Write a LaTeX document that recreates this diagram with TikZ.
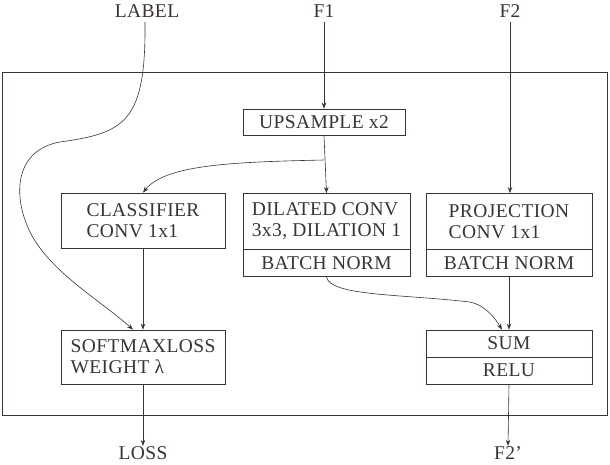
\documentclass[tikz,border=0pt]{standalone}
\usepackage{fontspec}
\setmainfont{Liberation Serif}[LetterSpace=2]
\usetikzlibrary{arrows.meta}
\definecolor{ink}{HTML}{3A3333}
\begin{document}
\begin{tikzpicture}[x=1pt,y=-1pt,
  every node/.style={font=\fontsize{19.5}{21}\selectfont, text=ink},
  blk/.style={draw=ink, line width=0.8pt, inner sep=0pt, align=left},
  lbl/.style={inner sep=0pt, text depth=0pt, anchor=base},
  con/.style={draw=ink, line width=0.6pt},
  arr/.style={con, -{Stealth[length=6pt,width=4.5pt]}}]
\useasboundingbox (0,0) rectangle (610,464);
\draw[ink, line width=0.8pt] (2,72) rectangle (607,415);
% labels
\node[lbl] (label) at (147,17) {LABEL};
\node[lbl] (f1) at (324,17) {F1};
\node[lbl] (f2) at (510,17) {F2};
\node[lbl] (loss) at (143,459) {LOSS};
\node[lbl] (f2p) at (508,459) {F2'};
% boxes
\node[blk, minimum width=162pt, minimum height=26pt] (up) at (324,122) {UPSAMPLE x2};
\node[blk, minimum width=164pt, minimum height=55pt] (cls) at (143,220.5) {CLASSIFIER\\CONV 1x1};
\node[blk, minimum width=167pt, minimum height=56pt] (dil) at (326.5,221.5) {DILATED CONV\\3x3, DILATION 1};
\node[blk, minimum width=167pt, minimum height=27pt] (dbn) at (326.5,263) {BATCH NORM};
\node[blk, minimum width=166pt, minimum height=56pt] (proj) at (509,221.5) {PROJECTION\\CONV 1x1};
\node[blk, minimum width=166pt, minimum height=27pt] (pbn) at (509,263) {BATCH NORM};
\node[blk, minimum width=164pt, minimum height=54pt] (soft) at (143,357) {SOFTMAXLOSS\\WEIGHT λ};
\node[blk, minimum width=166pt, minimum height=27pt] (sum) at (509,343.5) {SUM};
\node[blk, minimum width=166pt, minimum height=27pt] (relu) at (509,370.5) {RELU};
% connectors
\coordinate (br) at (324,160);
\draw[arr] (f1.north) ++(0,18) -- (up.north);
\draw[arr] (up.south) -- (dil.north);
\draw[arr] (br) .. controls (230,162) and (165,165) .. (cls.north);
\draw[arr] (f2.north) ++(0,18) -- (f2.north |- proj.north);
\draw[arr] (label.north) ++(-2,18) .. controls (146,122) and (125,133) .. (60,142)
  .. controls (15,150) and (12,195) .. (30,232)
  .. controls (50,272) and (100,300) .. ([xshift=-10pt]soft.north);
\draw[arr] (cls.south) -- (soft.north);
\draw[arr] (dbn.south) .. controls (330,296) and (400,294) .. (470,302)
  .. controls (485,305) and (495,318) .. ([xshift=-7pt]sum.north);
\draw[arr] (pbn.south -| sum.north) -- (sum.north);
\draw[arr] (soft.south) -- (loss.north);
\draw[arr] (relu.south) -- (f2p.north);
\end{tikzpicture}
\end{document}
